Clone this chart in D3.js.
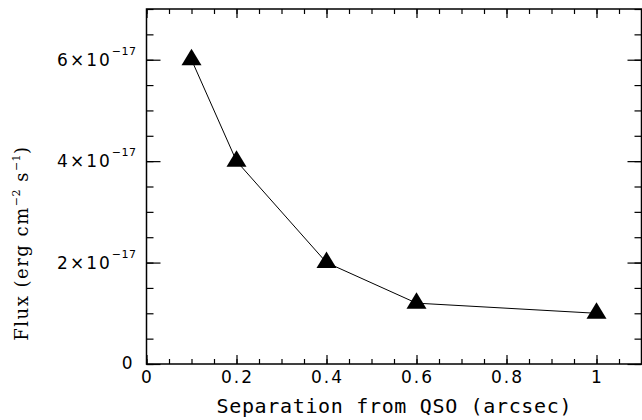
<!DOCTYPE html>
<html lang="en">
<head>
    <meta charset="utf-8" />
    <style>
        body { margin: 0; background: #fff; }
        .frame { fill: none; stroke: #000; stroke-width: 1.5px; }
        .tick line { stroke: #000; stroke-width: 1.2px; }
        .domain { display: none; }
        .link { fill: none; stroke: #000; stroke-width: 1px; }
        .tri { fill: #000; }
        text { fill: #000; }
        .tl { font-family: "DejaVu Sans", sans-serif; font-size: 17px; letter-spacing: 2px; }
        .sup { font-size: 11px; letter-spacing: 0.5px; }
        .xlabel { font-family: "DejaVu Sans Mono", monospace; font-size: 20px; }
        .ylabel { font-family: "DejaVu Serif", serif; font-size: 18px; letter-spacing: 1.5px; }
    </style>
</head>
<body>
<svg width="642" height="420"></svg>
<script src="https://cdn.jsdelivr.net/npm/d3@7"></script>
<script>

    // data
    var separation = [0.1, 0.2, 0.4, 0.6, 1.0],
        flux = [6.0e-17, 4.0e-17, 2.0e-17, 1.2e-17, 1.0e-17];

    var xTicks = [0, 0.2, 0.4, 0.6, 0.8, 1],
        xTickLabels = ["0", "0.2", "0.4", "0.6", "0.8", "1"],
        yTicks = [0, 2e-17, 4e-17, 6e-17],
        yTickMantissa = ["0", "2", "4", "6"];

    var svg = d3.select("svg"),
        pLeft = 146.5, pRight = 641.5, pTop = 9, pBottom = 364;

    var x = d3.scaleLinear().domain([0, 1.1]).range([pLeft, pRight]),
        y = d3.scaleLinear().domain([0, 7e-17]).range([pBottom, pTop]);

    var xMinor = d3.range(0, 23).map(function(i) { return i * 0.05; }),
        yMinor = d3.range(0, 15).map(function(i) { return i * 0.5e-17; });

    // ticks on all four sides, pointing inward
    function ticks(axis, vals, size, tr) {
        svg.append("g")
            .attr("transform", tr)
            .call(axis.tickValues(vals).tickSize(size).tickFormat(""));
    }
    ticks(d3.axisBottom(x), xMinor, -5, "translate(0," + pBottom + ")");
    ticks(d3.axisBottom(x), xTicks, -9, "translate(0," + pBottom + ")");
    ticks(d3.axisTop(x), xMinor, -5, "translate(0," + pTop + ")");
    ticks(d3.axisTop(x), xTicks, -9, "translate(0," + pTop + ")");
    ticks(d3.axisLeft(y), yMinor, -7, "translate(" + pLeft + ",0)");
    ticks(d3.axisLeft(y), yTicks, -14, "translate(" + pLeft + ",0)");
    ticks(d3.axisRight(y), yMinor, -7, "translate(" + pRight + ",0)");
    ticks(d3.axisRight(y), yTicks, -14, "translate(" + pRight + ",0)");

    svg.append("rect")
        .attr("class", "frame")
        .attr("x", pLeft).attr("y", pTop)
        .attr("width", pRight - pLeft).attr("height", pBottom - pTop);

    // x tick labels
    svg.selectAll(".xtl")
        .data(xTicks)
        .enter().append("text")
        .attr("class", "tl")
        .attr("x", function(d) { return x(d) + 1; })
        .attr("y", pBottom + 19)
        .attr("text-anchor", "middle")
        .text(function(d, i) { return xTickLabels[i]; });

    // y tick labels with exponent
    yTicks.forEach(function(d, i) {
        var t = svg.append("text")
            .attr("class", "tl")
            .attr("x", pLeft - 10)
            .attr("y", y(d) + 6)
            .attr("text-anchor", "end");
        if (d === 0) {
            t.attr("x", pLeft - 12).attr("y", y(d) + 5).text("0");
            return;
        }
        t.append("tspan").text(yTickMantissa[i] + "\u00d710");
        t.append("tspan").attr("class", "sup").attr("dy", -11).text("\u221217");
    });

    // the curve
    var pts = separation.map(function(s, i) { return [x(s), y(flux[i])]; });

    svg.append("path")
        .attr("class", "link")
        .attr("d", d3.line()(pts));

    svg.selectAll(".tri")
        .data(pts)
        .enter().append("path")
        .attr("class", "tri")
        .attr("transform", function(d) { return "translate(" + d[0] + "," + d[1] + ")"; })
        .attr("d", "M0,-11L10,5.5L-10,5.5Z");

    // axis titles
    svg.append("text")
        .attr("class", "xlabel")
        .attr("x", (pLeft + pRight) / 2)
        .attr("y", 413)
        .attr("text-anchor", "middle")
        .attr("textLength", 355)
        .attr("lengthAdjust", "spacing")
        .text("Separation from QSO (arcsec)");

    var yl = svg.append("text")
        .attr("class", "ylabel")
        .attr("transform", "translate(28,243) rotate(-90)")
        .attr("text-anchor", "middle");
    yl.append("tspan").text("Flux (erg cm");
    yl.append("tspan").attr("class", "sup").attr("dy", -8).text("\u22122");
    yl.append("tspan").attr("dy", 8).text(" s");
    yl.append("tspan").attr("class", "sup").attr("dy", -8).text("\u22121");
    yl.append("tspan").attr("dy", 8).text(")");

</script>
</body>
</html>
